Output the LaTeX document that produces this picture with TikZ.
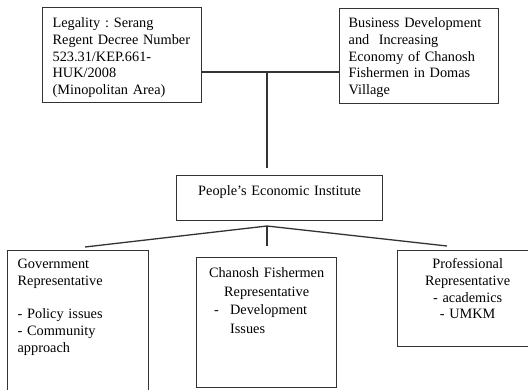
\documentclass[tikz,border=0pt]{standalone}
\usepackage{fontspec}
\setmainfont{Liberation Serif}
\frenchspacing

\begin{document}
\begin{tikzpicture}[
    x=1pt, y=-1pt,
    box/.style={draw=black!80, line width=1.3pt, rectangle, anchor=north west,
      inner xsep=10pt, inner ysep=0pt, align=left,
      font=\fontsize{14.3}{16.7}\selectfont},
    tie/.style={draw=black!80, line width=1.3pt},
  ]
  \path[use as bounding box, clip] (0,0) rectangle (528,389);

  % --- top row: legal basis and goal ---------------------------------------
  \node[box, text width=139pt, text height=20pt, text depth=75pt] (legal) at (42,7)
    {Legality : Serang\\ Regent Decree Number\\ 523.31/KEP.661-\\ HUK/2008\\ (Minopolitan Area)};
  \node[box, inner xsep=9pt, text width=141pt, text height=19pt, text depth=76pt] (goal) at (339,8)
    {Business Development\\ and~ Increasing\\ Economy of Chanosh\\ Fishermen in Domas\\ Village};

  % --- the institute ---------------------------------------------------------
  \node[box, align=center, text width=186pt, text height=20pt, text depth=25pt] (inst) at (176,175)
    {People's Economic Institute};

  % --- representatives -------------------------------------------------------
  \node[box, text width=121pt, text height=18pt, text depth=140pt] (gov) at (7,250)
    {Government\\ Representative\\[16.7pt] - Policy issues\\ - Community\\ approach};
  \node[box, align=center, text width=120pt, text height=20pt, text depth=110pt,
    font=\fontsize{14.3}{18.5}\selectfont] (fish) at (196,257)
    {Chanosh Fishermen\\ Representative\\
     \parbox[t]{105pt}{\raggedright\makebox[16pt][l]{-}Development\\ \hspace*{16pt}Issues}};
  \node[box, align=center, text width=120pt, text height=18pt, text depth=78pt] (prof) at (397,250)
    {Professional\\ Representative\\ - academics\\ - UMKM};

  % --- connectors ------------------------------------------------------------
  \coordinate (hub) at (267,72);
  \coordinate (hubend) at (267,168);
  \coordinate (fork) at (267,226);
  \coordinate (govtip) at (85,247);
  \coordinate (fishtip) at (267,246);
  \coordinate (proftip) at (447,246);

  \draw[tie] (legal.east |- hub) -- (hub) -- (goal.west |- hub);
  \draw[tie] (hub) -- (hubend);
  \draw[tie] (govtip) -- (fork) -- (proftip);
  \draw[tie] (fork) -- (fishtip);

\end{tikzpicture}
\end{document}
